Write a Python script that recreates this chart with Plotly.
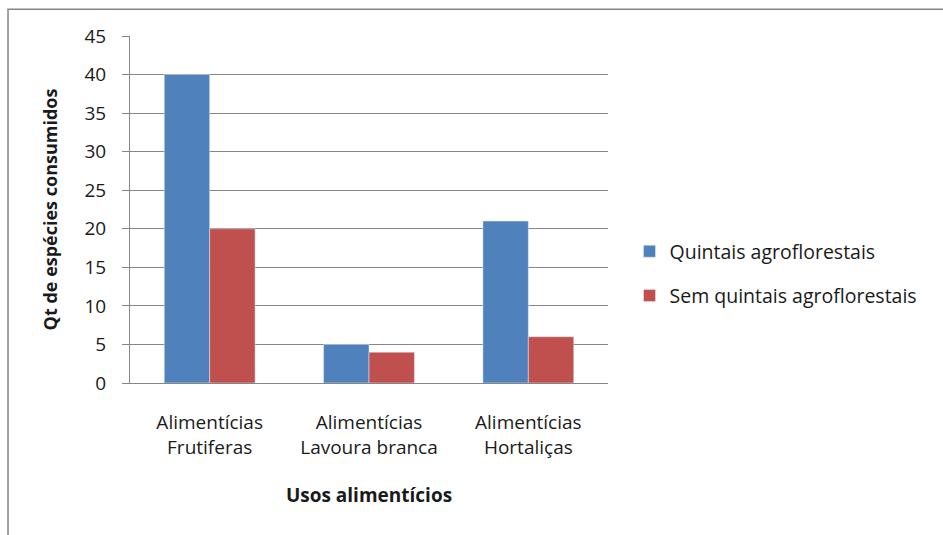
import plotly.graph_objects as go

categories = ["Alimentícias<br>Frutiferas", "Alimentícias<br>Lavoura branca", "Alimentícias<br>Hortaliças"]
quintais = [40, 5, 21]
sem_quintais = [20, 4, 6]
y_ticks = [0, 5, 10, 15, 20, 25, 30, 35, 40, 45]

FONT = "Open Sans, sans-serif"
TEXT = "#1a1a1a"

fig = go.Figure()
fig.add_trace(go.Bar(x=categories, y=quintais, name="Quintais agroflorestais",
                     marker_color="#4F81BD", legendgroup="a"))
fig.add_trace(go.Bar(x=categories, y=sem_quintais, name="Sem quintais agroflorestais",
                     marker_color="#C0504D", legendgroup="b"))

fig.update_layout(
    width=943, height=535,
    margin=dict(l=130, r=335, t=36, b=152),
    paper_bgcolor="white", plot_bgcolor="white",
    barmode="group", bargap=0.43, bargroupgap=0,
    font=dict(family=FONT, size=18, color=TEXT),
    legend=dict(x=1.045, y=0.435, xanchor="left", yanchor="top",
                font=dict(size=19.5, color=TEXT), tracegroupgap=16,
                itemwidth=30),
    xaxis=dict(showgrid=False, showline=True, linecolor="#868686", linewidth=1,
               ticks="", tickfont=dict(size=19), ticklabelstandoff=22,
               title=dict(text="<b>Usos alimentícios</b>", font=dict(size=19), standoff=30)),
    yaxis=dict(range=[0, 45], tickvals=y_ticks, showgrid=True, gridcolor="#868686",
               gridwidth=1, showline=True, linecolor="#868686", ticks="outside",
               ticklen=7, tickcolor="#868686", zeroline=False,
               tickfont=dict(size=19), ticklabelstandoff=12,
               title=dict(text="<b>Qt de espécies consumidos</b>", font=dict(size=18), standoff=22)),
    shapes=[dict(type="rect", xref="paper", yref="paper",
                 x0=-0.2552, x1=1.9, y0=-0.7, y1=1.0769,
                 line=dict(color="#868686", width=1.5), fillcolor="rgba(0,0,0,0)",
                 layer="below")],
)

fig.write_html("out.html")
